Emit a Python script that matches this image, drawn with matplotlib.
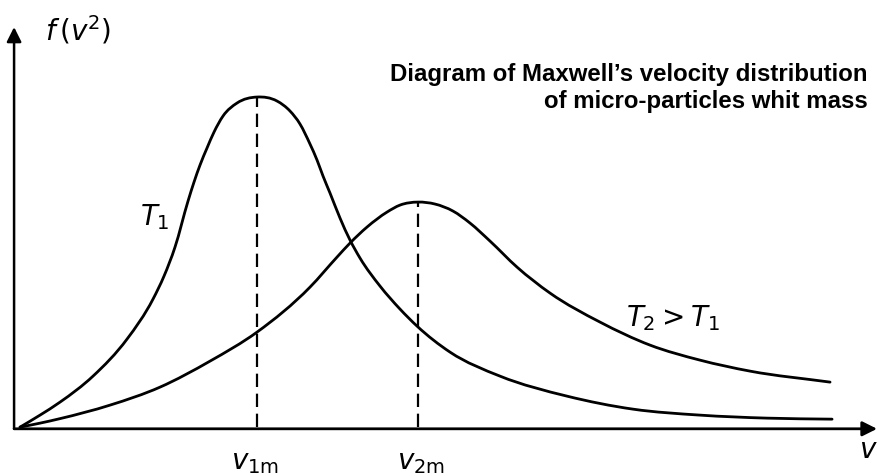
import matplotlib
matplotlib.use("Agg")
import matplotlib.pyplot as plt
import numpy as np
from matplotlib.path import Path
from matplotlib.patches import PathPatch

plt.rcParams['mathtext.fontset'] = 'dejavusans'

# Data (arbitrary units: v in units of v1m, f in units of the T1 peak)
v_t1 = [0.0, 0.0844, 0.1688, 0.3080, 0.4515, 0.5612, 0.6076, 0.6540, 0.7089, 0.7342,
        0.7595, 0.7890, 0.8186, 0.8565, 0.9156, 1.0, 1.0844, 1.1392, 1.1814, 1.2236,
        1.2532, 1.2785, 1.3080, 1.3502, 1.3924, 1.4346, 1.5190, 1.6034, 1.6751, 1.8143,
        2.0253, 2.3080, 2.5865, 2.8692, 3.1519, 3.4262]
f_t1 = [0.0, 0.0364, 0.0758, 0.1545, 0.2667, 0.3879, 0.4576, 0.5455, 0.6848, 0.7424,
        0.7939, 0.8455, 0.8939, 0.9424, 0.9818, 1.0, 0.9879, 0.9576, 0.9182, 0.8576,
        0.8091, 0.7606, 0.7091, 0.6333, 0.5667, 0.5121, 0.4273, 0.3576, 0.3061, 0.2273,
        0.1545, 0.0939, 0.0545, 0.0364, 0.0273, 0.0242]

v_t2 = [0.0, 0.0844, 0.1688, 0.3797, 0.5907, 0.8017, 1.0, 1.2236, 1.3376, 1.3924,
        1.4641, 1.5485, 1.6034, 1.6793, 1.7511, 1.8270, 1.8987, 1.9831, 2.0970, 2.2363,
        2.4473, 2.6582, 2.8692, 3.0802, 3.4177]
f_t2 = [0.0, 0.0121, 0.0258, 0.0667, 0.1212, 0.2000, 0.2879, 0.4242, 0.5152, 0.5576,
        0.6061, 0.6515, 0.6727, 0.6818, 0.6758, 0.6545, 0.6182, 0.5636, 0.4848, 0.4061,
        0.3182, 0.2485, 0.2030, 0.1697, 0.1364]

v1m, f1m = 1.0, 1.0
v2m, f2m = 1.6793, 0.6818

tick_labels = [r'$v_{1\mathrm{m}}$', r'$v_{2\mathrm{m}}$']
title_lines = ["Diagram of Maxwell\u2019s velocity distribution",
               "of micro-particles whit mass"]


def smooth_path(xs, ys):
    """Cubic Hermite through the points, drawn as Bezier segments."""
    x = np.asarray(xs, float)
    y = np.asarray(ys, float)
    n = len(x)
    h = np.diff(x)
    s = np.diff(y) / h
    m = np.empty(n)
    m[0], m[-1] = s[0], s[-1]
    for i in range(1, n - 1):
        m[i] = (s[i - 1] * h[i] + s[i] * h[i - 1]) / (h[i - 1] + h[i])
    verts = [(x[0], y[0])]
    codes = [Path.MOVETO]
    for i in range(n - 1):
        d = h[i] / 3.0
        verts += [(x[i] + d, y[i] + m[i] * d),
                  (x[i + 1] - d, y[i + 1] - m[i + 1] * d),
                  (x[i + 1], y[i + 1])]
        codes += [Path.CURVE4] * 3
    return Path(verts, codes)


fig = plt.figure(figsize=(8.78, 4.77), dpi=100)
ax = fig.add_axes([0, 0, 1, 1])
ax.set_xlim(-0.0844, 3.620)
ax.set_ylim(-0.148, 1.297)
ax.axis('off')

for xs, ys in [(v_t1, f_t1), (v_t2, f_t2)]:
    ax.add_patch(PathPatch(smooth_path(xs, ys), fill=False, edgecolor='black',
                           lw=2.0, capstyle='round', joinstyle='round'))

ax.plot([v1m, v1m], [0, f1m], color='black', lw=1.6, ls=(0, (6, 3)))
ax.plot([v2m, v2m], [0, f2m], color='black', lw=1.6, ls=(0, (6, 3)))

# axes with arrows
ax.annotate('', xy=(3.616, -0.005), xytext=(-0.025, -0.005),
            arrowprops=dict(arrowstyle='-|>', color='black', lw=2.0,
                            mutation_scale=22, shrinkA=0, shrinkB=0))
ax.annotate('', xy=(-0.025, 1.212), xytext=(-0.025, -0.005),
            arrowprops=dict(arrowstyle='-|>', color='black', lw=1.8,
                            mutation_scale=22, shrinkA=0, shrinkB=0))

ax.text(0.245, 1.206, r'$f\,(v^{2})$', fontsize=20, ha='center', va='center')
ax.text(0.570, 0.639, r'$T_{1}$', fontsize=20, ha='center', va='center')
ax.text(2.755, 0.333, r'$T_{2} > T_{1}$', fontsize=20, ha='center', va='center')
ax.text(0.99, -0.103, tick_labels[0], fontsize=20, ha='center', va='center')
ax.text(1.69, -0.103, tick_labels[1], fontsize=20, ha='center', va='center')
ax.text(3.578, -0.067, r'$v$', fontsize=20, ha='center', va='center')

for line, ypx in zip(title_lines, [81, 108]):
    fig.text(868 / 878, 1 - ypx / 477, line, fontsize=17.3, ha='right', va='baseline',
             family='Liberation Sans', weight='bold')

fig.savefig('out.png', dpi=100)
